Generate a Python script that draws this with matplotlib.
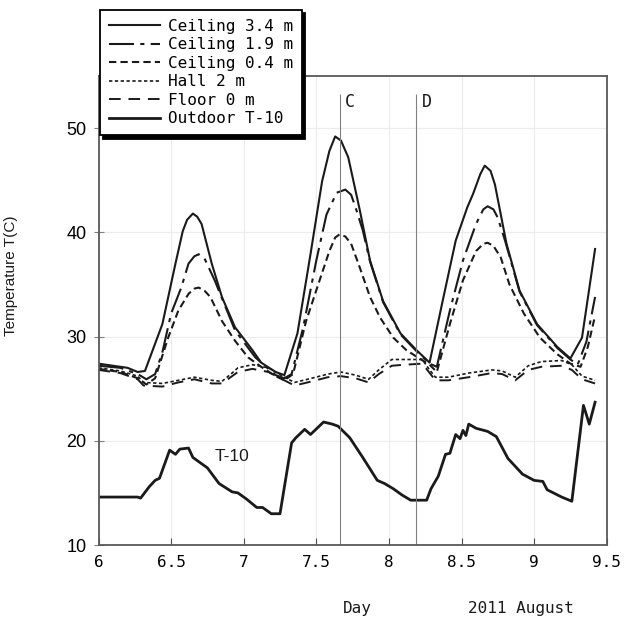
import matplotlib
matplotlib.use("Agg")
import matplotlib.pyplot as plt

# ---------------- data ----------------
c34_day = [6.00, 6.10, 6.20, 6.27, 6.32, 6.44, 6.53, 6.58, 6.61, 6.65, 6.68, 6.71, 6.78, 6.85, 6.94,
           7.06, 7.12, 7.22, 7.28, 7.37, 7.46, 7.54, 7.59, 7.63, 7.67, 7.72, 7.80, 7.87, 7.96,
           8.08, 8.19, 8.28, 8.37, 8.46, 8.54, 8.58, 8.63, 8.66, 8.70, 8.73, 8.81, 8.90, 9.02,
           9.16, 9.25, 9.33, 9.42]
c34_T = [27.4, 27.2, 27.0, 26.6, 26.7, 31.2, 37.0, 40.1, 41.2, 41.8, 41.5, 40.8, 37.0, 33.8, 30.9,
         28.7, 27.5, 26.6, 26.3, 30.3, 37.9, 44.9, 47.8, 49.2, 48.8, 47.2, 42.1, 37.3, 33.4,
         30.3, 28.7, 27.5, 33.4, 39.2, 42.4, 43.7, 45.6, 46.4, 45.9, 44.6, 38.9, 34.4, 31.2,
         29.0, 27.9, 29.9, 38.4]

c19_day = [6.00, 6.15, 6.27, 6.33, 6.39, 6.44, 6.50, 6.57, 6.62, 6.66, 6.69, 6.73, 6.76, 6.80, 6.87,
           6.94, 7.08, 7.22, 7.28, 7.33, 7.41, 7.50, 7.57, 7.64, 7.70, 7.74, 7.77, 7.82, 7.87,
           7.96, 8.08, 8.19, 8.28, 8.33, 8.42, 8.51, 8.60, 8.65, 8.68, 8.72, 8.75, 8.80, 8.90,
           9.02, 9.16, 9.25, 9.30, 9.36, 9.42]
c19_T = [27.2, 27.0, 26.4, 25.9, 26.4, 28.5, 32.2, 34.7, 37.0, 37.7, 37.9, 37.5, 36.6, 35.4, 33.0,
         30.6, 28.0, 26.3, 26.0, 26.4, 30.9, 37.3, 41.7, 43.8, 44.1, 43.6, 42.4, 40.2, 37.2,
         33.3, 30.2, 28.6, 27.4, 27.1, 32.5, 37.3, 40.8, 42.2, 42.5, 42.2, 41.4, 39.2, 34.3,
         31.1, 28.9, 27.8, 27.3, 29.5, 33.8]

c04_day = [6.00, 6.15, 6.27, 6.33, 6.39, 6.48, 6.55, 6.62, 6.66, 6.69, 6.73, 6.77, 6.85, 6.94, 7.03,
           7.12, 7.22, 7.28, 7.34, 7.43, 7.53, 7.59, 7.63, 7.66, 7.70, 7.74, 7.80, 7.87, 7.94,
           8.03, 8.12, 8.21, 8.28, 8.33, 8.42, 8.51, 8.60, 8.65, 8.68, 8.72, 8.77, 8.83, 8.93,
           9.04, 9.16, 9.25, 9.32, 9.37, 9.42]
c04_T = [26.9, 26.6, 26.0, 25.4, 26.0, 29.9, 32.5, 34.1, 34.6, 34.7, 34.4, 33.8, 31.5, 29.6, 28.0,
         27.1, 26.2, 25.8, 26.4, 31.5, 35.7, 38.2, 39.5, 39.8, 39.6, 38.9, 36.6, 33.8, 31.8,
         29.9, 28.7, 27.9, 27.3, 26.6, 31.2, 35.4, 38.2, 38.9, 39.0, 38.7, 37.6, 35.0, 32.2,
         29.9, 28.3, 27.4, 27.1, 29.0, 32.0]

low_day = [6.00, 6.15, 6.27, 6.31, 6.44, 6.55, 6.66, 6.78, 6.85, 6.92, 6.96, 7.06, 7.17, 7.28, 7.35,
           7.44, 7.58, 7.67, 7.77, 7.86, 7.93, 8.02, 8.11, 8.23, 8.27, 8.32, 8.41, 8.55, 8.71,
           8.78, 8.87, 8.96, 9.05, 9.19, 9.26, 9.33, 9.42]
hall_T = [27.0, 26.7, 26.2, 25.6, 25.5, 25.8, 26.1, 25.8, 25.7, 26.5, 27.0, 27.3, 27.0, 26.1, 25.6,
          25.9, 26.4, 26.6, 26.3, 25.9, 26.8, 27.8, 27.8, 27.8, 27.0, 26.1, 26.1, 26.5, 26.8,
          26.7, 26.1, 27.2, 27.6, 27.7, 27.3, 26.2, 25.8]
floor_T = [26.8, 26.5, 25.9, 25.3, 25.2, 25.6, 25.9, 25.5, 25.5, 26.2, 26.6, 26.9, 26.6, 25.8, 25.3,
           25.6, 26.1, 26.2, 26.0, 25.6, 26.4, 27.2, 27.3, 27.4, 26.7, 25.8, 25.8, 26.1, 26.5,
           26.4, 25.8, 26.8, 27.1, 27.2, 26.8, 25.9, 25.5]

out_day = [6.00, 6.27, 6.29, 6.35, 6.39, 6.42, 6.49, 6.53, 6.56, 6.62, 6.65, 6.69, 6.75, 6.83, 6.92,
           6.96, 7.02, 7.09, 7.13, 7.19, 7.25, 7.33, 7.36, 7.42, 7.46, 7.49, 7.55, 7.61, 7.65,
           7.73, 7.82, 7.92, 7.97, 8.03, 8.09, 8.15, 8.26, 8.29, 8.34, 8.39, 8.42, 8.46, 8.49,
           8.51, 8.53, 8.55, 8.60, 8.68, 8.74, 8.82, 8.92, 9.00, 9.06, 9.09, 9.19, 9.26, 9.34,
           9.38, 9.42]
out_T = [14.6, 14.6, 14.5, 15.6, 16.2, 16.4, 19.1, 18.7, 19.2, 19.3, 18.4, 18.0, 17.4, 15.9, 15.1,
         15.0, 14.4, 13.6, 13.6, 13.0, 13.0, 19.8, 20.3, 21.1, 20.6, 21.0, 21.8, 21.6, 21.4,
         20.3, 18.4, 16.2, 15.9, 15.4, 14.8, 14.3, 14.3, 15.4, 16.6, 18.7, 18.8, 20.6, 20.2,
         21.0, 20.5, 21.6, 21.2, 20.9, 20.4, 18.3, 16.8, 16.2, 16.1, 15.3, 14.6, 14.2, 23.4,
         21.6, 23.7]

series_labels = ["Ceiling 3.4 m", "Ceiling 1.9 m", "Ceiling 0.4 m", "Hall 2 m", "Floor 0 m", "Outdoor T-10"]
marker_days = [7.66, 8.19]
marker_names = ["C", "D"]
xticks = [6, 6.5, 7, 7.5, 8, 8.5, 9, 9.5]
xtick_labels = ["6", "6.5", "7", "7.5", "8", "8.5", "9", "9.5"]
yticks = [10, 20, 30, 40, 50]

# ---------------- figure ----------------
W, H = 625, 621
fig = plt.figure(figsize=(W / 100, H / 100), dpi=100)
ax = fig.add_axes([98.5 / W, 1 - 545 / H, (606.7 - 98.5) / W, (545 - 76) / H])

mono = "DejaVu Sans Mono"
sans = "Liberation Sans"
ink = "#1a1a1a"

ax.plot(c34_day, c34_T, color=ink, lw=1.5, ls="-", label=series_labels[0])
ax.plot(c19_day, c19_T, color=ink, lw=1.5, ls=(0, (12, 3, 2, 3)), label=series_labels[1])
ax.plot(c04_day, c04_T, color=ink, lw=1.5, ls=(0, (3.5, 2)), label=series_labels[2])
ax.plot(low_day, hall_T, color=ink, lw=1.2, ls=(0, (2, 1.5)), label=series_labels[3])
ax.plot(low_day, floor_T, color=ink, lw=1.4, ls=(0, (6, 4)), label=series_labels[4])
ax.plot(out_day, out_T, color=ink, lw=2.0, ls="-", label=series_labels[5])

for d, n in zip(marker_days, marker_names):
    ax.vlines(d, 10, 53.3, color="0.5", lw=0.8)
    ax.text(d + 0.07, 52.5, n, fontsize=12, family=mono, color=ink, ha="center", va="center")

ax.text(6.92, 18.5, "T-10", fontsize=12.5, family=sans, color=ink, ha="center", va="center")

ax.set_xlim(6, 9.5)
ax.set_ylim(10, 55)
ax.set_xticks(xticks)
ax.set_xticklabels(xtick_labels, family=mono, fontsize=11.5)
ax.set_yticks(yticks)
ax.set_yticklabels([str(v) for v in yticks], family=sans, fontsize=13)
ax.tick_params(axis="x", direction="in", length=5, pad=7, color="0.3")
ax.tick_params(axis="y", direction="inout", length=7, pad=5, color="0.5")
ax.grid(True, color="#ececec", lw=0.8)
ax.set_axisbelow(True)
for s in ax.spines.values():
    s.set_color("0.35")
    s.set_linewidth(1.3)

ax.set_ylabel("Temperature T(C)", family=sans, fontsize=11, color=ink)
ax.yaxis.set_label_coords((18 - 98.5) / (606.7 - 98.5), 0.574)

fig.text(357 / W, 1 - 609 / H, "Day", family=mono, fontsize=11.5, ha="center", va="center", color=ink)
fig.text(521 / W, 1 - 609 / H, "2011 August", family=mono, fontsize=11.5, ha="center", va="center", color=ink)

leg = ax.legend(loc="upper left", bbox_to_anchor=(100 / W, 1 - 10 / H), bbox_transform=fig.transFigure,
                borderaxespad=0, fancybox=False, shadow={"color": "black", "alpha": 1, "ox": 2.5, "oy": -2.5},
                framealpha=1, edgecolor="black", prop={"family": mono, "size": 11.5},
                handlelength=3.2, handletextpad=0.5, labelspacing=0.22, borderpad=0.55)
leg.get_frame().set_linewidth(1.3)
leg.set_zorder(10)

fig.savefig("out.png", dpi=100)
